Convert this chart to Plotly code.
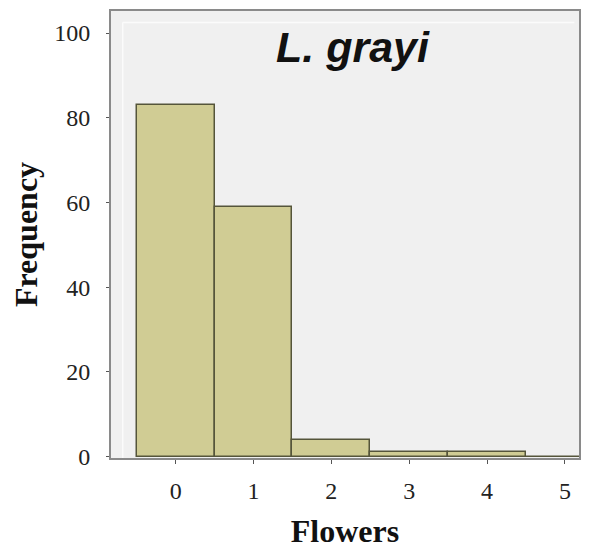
import plotly.graph_objects as go

flowers = [0, 1, 2, 3, 4, 5]
frequency = [83, 59, 4, 1, 1, 0]
y_ticks = [0, 20, 40, 60, 80, 100]
title_text = "L. grayi"

fig = go.Figure()
fig.add_trace(go.Bar(
    x=flowers, y=frequency, width=1,
    marker=dict(color="#d0cc94", line=dict(color="#55553a", width=1.5)),
))

# page has an 8px body margin, so the figure is sized to fit inside it
fig.update_layout(
    width=574, height=541,
    margin=dict(l=103, r=1, t=1, b=75),
    paper_bgcolor="white",
    plot_bgcolor="#f0f0f0",
    showlegend=False,
    bargap=0,
    font=dict(family="Liberation Serif", color="#222222"),
)
fig.update_xaxes(
    range=[-0.83, 5.18], tickvals=flowers, ticktext=[str(v) for v in flowers],
    showgrid=False, zeroline=False,
    showline=True, linecolor="#8a8a8a", linewidth=2, mirror=True,
    ticks="outside", ticklen=4, tickcolor="#555555", ticklabelstandoff=6,
    tickfont=dict(family="Liberation Serif", size=24, color="#222222"),
    title=dict(text="<b>Flowers</b>", font=dict(family="Liberation Serif", size=32, color="#111111"), standoff=22),
)
fig.update_yaxes(
    range=[-0.3, 105.2], tickvals=y_ticks,
    showgrid=False, zeroline=False,
    showline=True, linecolor="#8a8a8a", linewidth=2, mirror=True,
    ticks="outside", ticklen=3, tickcolor="#555555", ticklabelstandoff=11,
    tickfont=dict(family="Liberation Serif", size=24, color="#222222"),
    title=dict(text="<b>Frequency</b>", font=dict(family="Liberation Serif", size=32, color="#111111"), standoff=8),
)
# inner light frame lines
fig.add_shape(type="line", xref="paper", yref="paper", x0=0.025, x1=0.025, y0=0, y1=0.974,
              line=dict(color="#fbfbfb", width=1.5), layer="below")
fig.add_shape(type="line", xref="paper", yref="paper", x0=0.025, x1=0.99, y0=0.974, y1=0.974,
              line=dict(color="#fbfbfb", width=1.5), layer="below")
fig.add_annotation(
    text="<b><i>" + title_text + "</i></b>", xref="paper", yref="paper",
    x=0.517, y=0.92, xanchor="center", yanchor="middle", showarrow=False,
    font=dict(family="Liberation Sans", size=43, color="#111111"),
)
fig.write_html("out.html")
